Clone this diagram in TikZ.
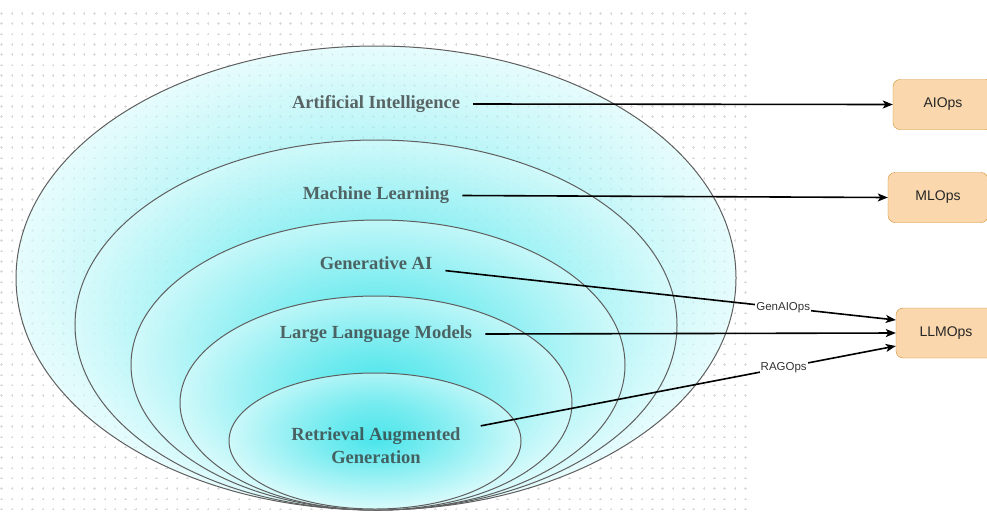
\documentclass[tikz,border=0pt]{standalone}
\usepackage{fontspec}
\setmainfont{Liberation Serif}
\newfontfamily\boxfont{Liberation Sans}
\usetikzlibrary{arrows.meta}
\definecolor{ringline}{HTML}{5F5F5F}
\definecolor{cyanin}{RGB}{50,226,232}
\definecolor{cyanout}{RGB}{218,251,252}
\definecolor{opsfill}{HTML}{FAD7AC}
\definecolor{opsline}{HTML}{D08F2C}
\definecolor{labeltext}{HTML}{333333}
\pgfdeclareradialshading{ringshade}{\pgfpointorigin}{color(0bp)=(cyanin); color(25bp)=(cyanout); color(50bp)=(cyanout)}
\begin{document}
\begin{tikzpicture}[x=1pt,y=-1pt,
  ring/.style={draw=ringline,line width=1pt,shading=ringshade,shade,fill opacity=0.65},
  gridmark/.style={draw=black!14,line width=0.5pt},
  ringlabel/.style={font=\fontsize{18.5}{23}\selectfont\bfseries,text=labeltext,text opacity=0.75,inner xsep=13pt,align=center},
  opsbox/.style={draw=opsline,fill=opsfill,rounded corners=7pt,minimum width=100pt,minimum height=50pt,font=\boxfont\fontsize{14}{16}\selectfont,text=black!85},
  link/.style={line width=1.6pt,-{Stealth[length=10pt,width=8pt,inset=2.5pt]}},
  linklabel/.style={fill=white,inner sep=1pt,font=\boxfont\fontsize{11.5}{13}\selectfont,text=black!80}]
\clip (0,0) rectangle (987,512);
\fill[white] (0,0) rectangle (987,512);

% dotted canvas
\path[gridmark] \foreach \gx in {0,...,72}{\foreach \gy in {0,...,48}{
  (1.5+10.33*\gx,13.3+10.33*\gy) +(-1.3,0) -- +(1.3,0) +(0,-1.3) -- +(0,1.3)}};

% nested rings
\path[ring] (376,278) ellipse [x radius=360pt, y radius=232pt];
\path[ring] (376,325) ellipse [x radius=301pt, y radius=185pt];
\path[ring] (378,365) ellipse [x radius=247pt, y radius=145pt];
\path[ring] (376,403) ellipse [x radius=196pt, y radius=107pt];
\path[ring] (375,441) ellipse [x radius=146pt, y radius=68pt];

\node(ai) at (376,104)[ringlabel]           {Artificial Intelligence};
\node(ml) at (376,195.5)[ringlabel]         {Machine Learning};
\node(genai) at (376,263)[ringlabel]        {Generative AI};
\node(llm) at (376,334)[ringlabel]          {Large Language Models};
\node(rag) at (376,446)[ringlabel,inner xsep=20pt] {Retrieval Augmented\\Generation};

\node(aiops) at (943,104.5)[opsbox]  {AIOps};
\node(mlops) at (938,197.5)[opsbox]  {MLOps};
\node(llmops) at (946,333)[opsbox]   {LLMOps};

\path [link]
  (ai.east)   edge                                      (aiops.west)
  (ml.east)   edge                                      (mlops.west)
  (genai)     edge node [linklabel,pos=0.75] {GenAIOps} ([yshift=13pt]llmops.west)
  (llm.east)  edge                                      (llmops.west)
  (rag)       edge node [linklabel,pos=0.73] {RAGOps}   ([yshift=-13pt]llmops.west);

\end{tikzpicture}
\end{document}
